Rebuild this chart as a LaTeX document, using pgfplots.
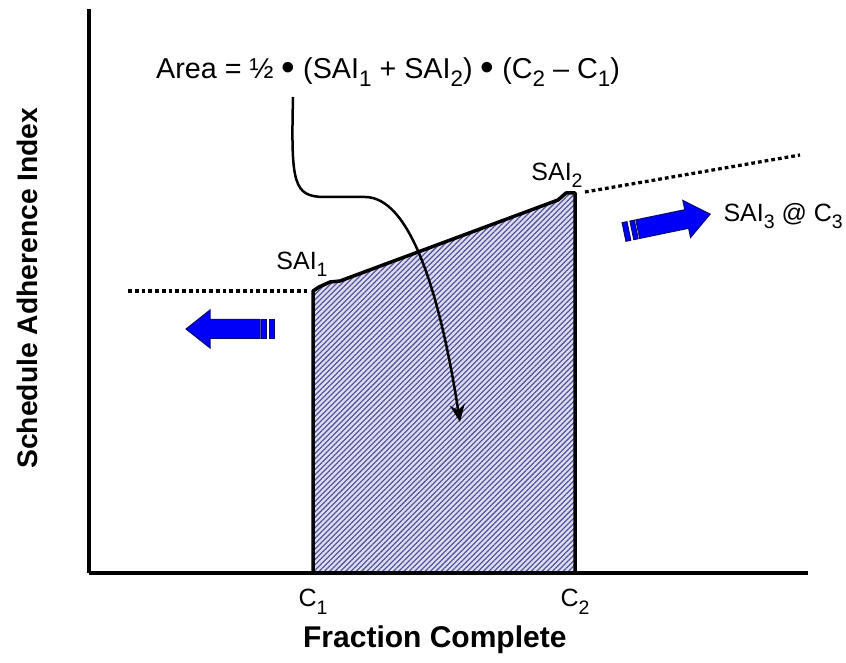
\documentclass[border=0pt]{standalone}
\usepackage{fontspec}
\setmainfont{Liberation Sans}
\usepackage{pgfplots}
\pgfplotsset{compat=1.18}
\usetikzlibrary{patterns.meta,arrows.meta}
\definecolor{hatchfill}{RGB}{222,222,240}
\definecolor{hatchline}{RGB}{85,85,155}
\definecolor{arrowblue}{RGB}{0,0,250}
\definecolor{arrowedge}{RGB}{10,10,110}
% Arial-like subscripts, lower and larger than \textsubscript
\newcommand\sub[1]{\raisebox{-0.55ex}{\scalebox{0.78}{#1}}}
\newcommand\bul{\raisebox{-0.12ex}{\scalebox{1.35}{•}}}
\begin{document}
\begin{tikzpicture}
\begin{axis}[
  scale only axis,
  width=287.6pt, height=225.6pt,
  xmin=89, xmax=808, ymin=0, ymax=564,
  axis lines=left,
  axis line style={-, line width=1.5pt},
  axis on top, clip=false,
  xtick={313,575},
  xticklabels={C\sub{1},C\sub{2}},
  ytick=\empty,
  major tick length=0pt,
  xticklabel style={font=\fontsize{10}{12}\selectfont, yshift=-3pt},
  xlabel={Fraction Complete},
  ylabel={Schedule Adherence Index},
  xlabel style={font=\fontsize{12}{14}\selectfont\bfseries,
    at={(axis description cs:0.481,-0.119)}, anchor=center},
  ylabel style={font=\fontsize{11.3}{13}\selectfont\bfseries,
    at={(axis description cs:-0.085,0.505)}, anchor=center},
]
% bounding box of the whole picture (846 x 662 px)
\path (axis cs:0,-89) rectangle (axis cs:846,573);

% hatched trapezoid
\addplot[draw=none, fill=hatchfill,
  postaction={pattern={Lines[angle=45,distance=1.5pt,line width=0.5pt]},
              pattern color=hatchline}]
  coordinates {(313,0) (313,282) (319,286) (330,291) (340,292)
               (558,373) (566,380) (575,380) (575,0)} -- cycle;
\addplot[black, line width=1.4pt, line join=round]
  coordinates {(313,0) (313,282) (319,286) (330,291) (340,292)
               (558,373) (566,380) (575,380) (575,0)};

% dotted extensions
\addplot[black, line width=1.3pt, dash pattern=on 1.5pt off 1.2pt]
  coordinates {(128,282) (308,282)};
\addplot[black, line width=1.3pt, dash pattern=on 1.5pt off 1.2pt]
  coordinates {(585,381) (800,418)};

% left block arrow
\addplot[fill=arrowblue, draw=arrowedge, line width=0.4pt]
  coordinates {(260,234.5) (210,234.5) (210,225) (186,244) (210,263)
               (210,253.5) (260,253.5)} -- cycle;
\addplot[fill=arrowblue, draw=arrowedge, line width=0.4pt]
  coordinates {(261.5,234.5) (266,234.5) (266,253.5) (261.5,253.5)} -- cycle;
\addplot[fill=arrowblue, draw=arrowedge, line width=0.4pt]
  coordinates {(269,234.5) (274,234.5) (274,253.5) (269,253.5)} -- cycle;

% right block arrow
\addplot[fill=arrowblue, draw=arrowedge, line width=0.4pt]
  coordinates {(635.78,353.14) (684.73,363.29) (682.80,372.59) (710.15,358.86)
               (690.52,335.39) (688.59,344.69) (639.64,334.54)} -- cycle;
\addplot[fill=arrowblue, draw=arrowedge, line width=0.4pt]
  coordinates {(629.90,351.92) (634.31,352.84) (638.17,334.24) (633.76,333.32)} -- cycle;
\addplot[fill=arrowblue, draw=arrowedge, line width=0.4pt]
  coordinates {(622.07,350.30) (626.97,351.32) (630.83,332.72) (625.93,331.70)} -- cycle;

% curved pointer from the formula into the area
\draw[line width=1pt, -{Stealth[length=7pt,width=6pt]}]
  (axis cs:293,476) .. controls (axis cs:291,390) and (axis cs:293,376) ..
  (axis cs:325,376) -- (axis cs:365,376)
  .. controls (axis cs:410,376) and (axis cs:440,280) .. (axis cs:460,151);

% labels
\node[font=\fontsize{11.5}{13}\selectfont] at (axis cs:388,501)
  {Area = ½ \bul{} (SAI\sub{1} + SAI\sub{2}) \bul{} (C\sub{2} – C\sub{1})};
\node[font=\fontsize{10}{12}\selectfont] at (axis cs:302,309) {SAI\sub{1}};
\node[font=\fontsize{10}{12}\selectfont] at (axis cs:557,398) {SAI\sub{2}};
\node[font=\fontsize{10}{12}\selectfont, anchor=west, inner sep=0pt] at (axis cs:723,357)
  {SAI\sub{3} @ C\sub{3}};
\end{axis}
\end{tikzpicture}
\end{document}
